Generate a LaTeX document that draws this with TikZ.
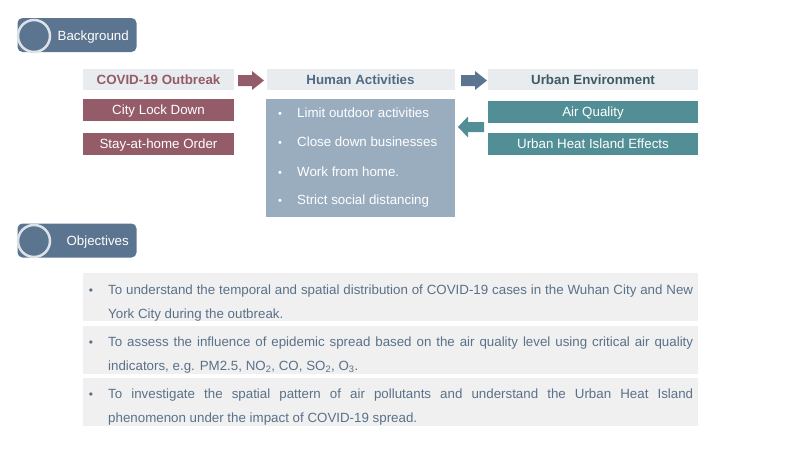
\documentclass[tikz,border=0pt]{standalone}
\usepackage{fontspec}
\setmainfont{Liberation Sans}
\begin{document}
\definecolor{pillblue}{HTML}{5B7590}
\definecolor{pillring}{HTML}{DCE2E8}
\definecolor{maroon}{HTML}{945B68}
\definecolor{headgrey}{HTML}{E9ECEF}
\definecolor{listblue}{HTML}{9AADBF}
\definecolor{teal}{HTML}{528E95}
\definecolor{objgrey}{HTML}{F0F0F0}
\definecolor{objtext}{HTML}{5A7189}
\definecolor{humantext}{HTML}{4F6A82}
\definecolor{urbantext}{HTML}{3E5A66}
\begin{tikzpicture}[x=1pt,y=-1pt,
  every node/.style={font=\fontsize{13.33}{16}\selectfont, inner sep=0pt},
  line/.style={text height=9.5pt, text depth=0pt},
  pill/.style={fill=pillblue, rounded corners=5pt, minimum width=119pt, minimum height=34pt},
  pillcircle/.style={circle, fill=pillblue, draw=pillring, line width=2.5pt, minimum size=32pt},
  pilltext/.style={line, text=white, anchor=east},
  header/.style={line, fill=headgrey, minimum height=21pt, font=\fontsize{13.33}{16}\selectfont\bfseries},
  cause/.style={line, fill=maroon, text=white, minimum width=151pt, minimum height=22pt},
  effect/.style={line, fill=teal, text=white, minimum width=210pt, minimum height=22pt},
  bul/.style={text=white, font=\fontsize{11}{13}\selectfont},
  item/.style={line, text=white, anchor=west},
  objbox/.style={fill=objgrey, minimum width=615pt, minimum height=48pt},
  objtext/.style={text=objtext, text width=585pt, align=justify, anchor=west,
    font=\fontsize{13.33}{24}\selectfont},
  objbul/.style={text=objtext, font=\fontsize{12}{13}\selectfont},
  rarrow/.pic={\fill (0,-5.5) -- (14,-5.5) -- (14,-9.5) -- (26,0) -- (14,9.5) -- (14,5.5) -- (0,5.5) -- cycle;},
  larrow/.pic={\fill (0,-5) -- (-16,-5) -- (-16,-10.5) -- (-26,0) -- (-16,10.5) -- (-16,5) -- (0,5) -- cycle;}
]
\useasboundingbox (0,0) rectangle (800,450);

% Background section heading
\node[pill] (bgpill) at (77,35) {};
\node[pillcircle] (bgcirc) at (34,36) {};
\node[pilltext] (bgtext) at (129,36) {Background};

% Column headers
\node[header, minimum width=151pt, text=maroon] (covid) at (158.5,79.5) {COVID-19 Outbreak};
\node[header, minimum width=188pt, text=humantext] (human) at (360.5,79.5) {Human Activities};
\node[header, minimum width=210pt, text=urbantext] (urban) at (593,79.5) {Urban Environment};

% Arrows between headers
\fill[maroon] pic at (238,80.5) {rarrow};
\fill[pillblue] pic at (461,80.5) {rarrow};

% Measures
\node[cause] (lock) at (158.5,110) {City Lock Down};
\node[cause] (stay) at (158.5,144) {Stay-at-home Order};

% Human activity list
\node[fill=listblue, minimum width=189pt, minimum height=118pt] (acts) at (360.5,158) {};
\node[bul] (b1) at (280,114.5) {•};
\node[item] (a1) at (297,113) {Limit outdoor activities};
\node[bul] (b2) at (280,143.5) {•};
\node[item] (a2) at (297,142) {Close down businesses};
\node[bul] (b3) at (280,173.5) {•};
\node[item] (a3) at (297,172) {Work from home.};
\node[bul] (b4) at (280,201.5) {•};
\node[item] (a4) at (297,200) {Strict social distancing};

% Urban environment effects
\node[effect] (air) at (593,111.5) {Air Quality};
\node[effect] (uhi) at (593,144) {Urban Heat Island Effects};
\fill[teal] pic at (484,127) {larrow};

% Objectives section heading
\node[pill] (objpill) at (77,240.5) {};
\node[pillcircle] (objcirc) at (34,241) {};
\node[pilltext] (objhead) at (129,241) {Objectives};

% Objective list
\node[objbox] (o1) at (390.5,297) {};
\node[objbul] (ob1) at (91,291.5) {•};
\node[objtext] (ot1) at (108,303) {To understand the temporal and spatial distribution of COVID-19 cases in the Wuhan City and New York City during the outbreak.};

\node[objbox] (o2) at (390.5,349.5) {};
\node[objbul] (ob2) at (91,343.5) {•};
\node[objtext] (ot2) at (108,355) {To assess the influence of epidemic spread based on the air quality level using critical air quality indicators, e.g. PM2.5, NO\textsubscript{2}, CO, SO\textsubscript{2}, O\textsubscript{3}.};

\node[objbox] (o3) at (390.5,402) {};
\node[objbul] (ob3) at (91,395.5) {•};
\node[objtext] (ot3) at (108,407) {To investigate the spatial pattern of air pollutants and understand the Urban Heat Island\linebreak phenomenon under the impact of COVID-19 spread.};
\end{tikzpicture}
\end{document}
